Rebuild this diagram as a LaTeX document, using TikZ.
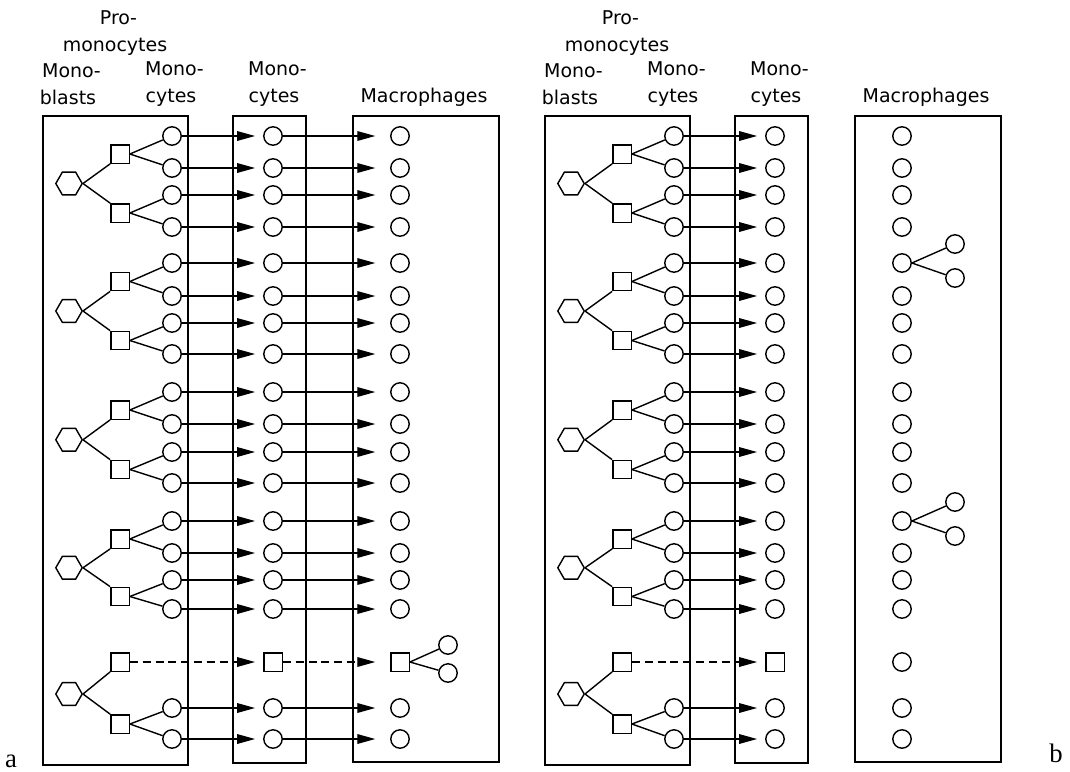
\documentclass[tikz,border=0pt]{standalone}
\usepackage{fontspec}
\setmainfont{DejaVu Sans}
\newfontfamily\panelfont{Liberation Serif}
\usetikzlibrary{shapes,arrows.meta,positioning}

\tikzset{
  cell/.style={circle, draw, line width=1pt, minimum size=0.46cm, inner sep=0pt},
  promono/.style={rectangle, draw, line width=1pt, minimum size=0.46cm, inner sep=0pt},
  blast/.style={regular polygon, regular polygon sides=6, draw, line width=1pt, minimum size=0.66cm, inner sep=0pt},
  stagebox/.style={draw, line width=1.5pt},
  link/.style={line width=1pt},
  flow/.style={line width=1pt, -{Triangle[length=0.45cm,width=0.24cm]}, shorten >=0.2cm},
  flowlong/.style={flow, shorten >=0.37cm},
  heading/.style={align=center, font=\fontsize{13.5}{19}\selectfont},
  panel/.style={font=\panelfont\fontsize{19}{22}\selectfont, anchor=base},
}

\begin{document}
\begin{tikzpicture}[x=0.025cm, y=-0.025cm]
\useasboundingbox (0,0) rectangle (1070,771);

% both panels: stem cells, promonocytes, monocytes
\foreach \p/\dx in {a/0, b/502} {
  % stage boxes
  \draw[stagebox] (43+\dx,116) rectangle (188+\dx,765);
  \draw[stagebox] (233+\dx,116) rectangle (306+\dx,763);
  \draw[stagebox] (353+\dx,116) rectangle (499+\dx,762);

  % headings
  \node[heading] (\p-pro) at (115+\dx,33) {Pro\rlap{-}\\monocytes};
  \node[heading] (\p-blast) at (68+\dx,84) {Mono\rlap{-}\\blasts};
  \node[heading] (\p-cyte) at (171+\dx,84) {Mono\rlap{-}\\cytes};
  \node[heading] (\p-blood) at (274+\dx,84) {Mono\rlap{-}\\cytes};
  \node[heading] (\p-macro) at (424+\dx,97) {Macrophages};

  % four complete divisions
  \foreach \g/\ya/\yb/\yc/\yd in {1/136/168/195/227, 2/263/296/323/354, 3/392/424/452/483, 4/521/553/580/609} {
    \node[blast] (\p-h\g) at (69+\dx,{(\ya+\yb+\yc+\yd)/4+2}) {};
    \node[promono] (\p-s\g-1) at (120+\dx,{(\ya+\yb)/2+2}) {};
    \node[promono] (\p-s\g-2) at (120+\dx,{(\yc+\yd)/2+2}) {};
    \draw[link] (\p-h\g.east) -- (\p-s\g-1.south west);
    \draw[link] (\p-h\g.east) -- (\p-s\g-2.north west);
    \foreach \k/\y in {1/\ya, 2/\yb, 3/\yc, 4/\yd} {
      \node[cell] (\p-c\g-\k) at (172+\dx,\y) {};
      \node[cell] (\p-m\g-\k) at (273+\dx,\y) {};
      \node[cell] (\p-f\g-\k) at (400+\dx,\y) {};
      \draw[flow] (\p-c\g-\k) -- (\p-m\g-\k);
    }
    \draw[link] (\p-s\g-1.east) -- (\p-c\g-1);
    \draw[link] (\p-s\g-1.east) -- (\p-c\g-2);
    \draw[link] (\p-s\g-2.east) -- (\p-c\g-3);
    \draw[link] (\p-s\g-2.east) -- (\p-c\g-4);
  }

  % last division: one promonocyte leaves undivided
  \node[blast] (\p-h5) at (69+\dx,694) {};
  \node[promono] (\p-s5-1) at (120+\dx,662) {};
  \node[promono] (\p-s5-2) at (120+\dx,724) {};
  \draw[link] (\p-h5.east) -- (\p-s5-1.south west);
  \draw[link] (\p-h5.east) -- (\p-s5-2.north west);
  \node[promono] (\p-m5-1) at (273+\dx,662) {};
  \draw[flow, dashed, dash pattern=on 0.2cm off 0.12cm] (\p-s5-1) -- (\p-m5-1);
  \foreach \k/\y in {3/708, 4/739} {
    \node[cell] (\p-c5-\k) at (172+\dx,\y) {};
    \node[cell] (\p-m5-\k) at (273+\dx,\y) {};
    \node[cell] (\p-f5-\k) at (400+\dx,\y) {};
    \draw[flow] (\p-c5-\k) -- (\p-m5-\k);
  }
  \draw[link] (\p-s5-2.east) -- (\p-c5-3);
  \draw[link] (\p-s5-2.east) -- (\p-c5-4);
}

% panel a: monocytes into macrophages
\foreach \g in {1,...,4} {
  \foreach \k in {1,...,4} {
    \draw[flowlong] (a-m\g-\k) -- (a-f\g-\k);
  }
}
\foreach \k in {3,4} {
  \draw[flowlong] (a-m5-\k) -- (a-f5-\k);
}
\node[promono] (a-f5-1) at (400,662) {};
\draw[flowlong, dashed, dash pattern=on 0.2cm off 0.12cm] (a-m5-1) -- (a-f5-1);
\node[cell] (a-d1) at (448,645) {};
\node[cell] (a-d2) at (448,673) {};
\draw[link] (a-f5-1.east) -- (a-d1);
\draw[link] (a-f5-1.east) -- (a-d2);

% panel b: dividing macrophages
\node[cell] (b-f5-1) at (902,662) {};
\node[cell] (b-d1) at (955,244) {};
\node[cell] (b-d2) at (955,278) {};
\node[cell] (b-d3) at (955,502) {};
\node[cell] (b-d4) at (955,536) {};
\draw[link] (b-f2-1.east) -- (b-d1);
\draw[link] (b-f2-1.east) -- (b-d2);
\draw[link] (b-f4-1.east) -- (b-d3);
\draw[link] (b-f4-1.east) -- (b-d4);

% panel letters
\node[panel] (lbl-a) at (11,767) {a};
\node[panel] (lbl-b) at (1056,762) {b};
\end{tikzpicture}
\end{document}
